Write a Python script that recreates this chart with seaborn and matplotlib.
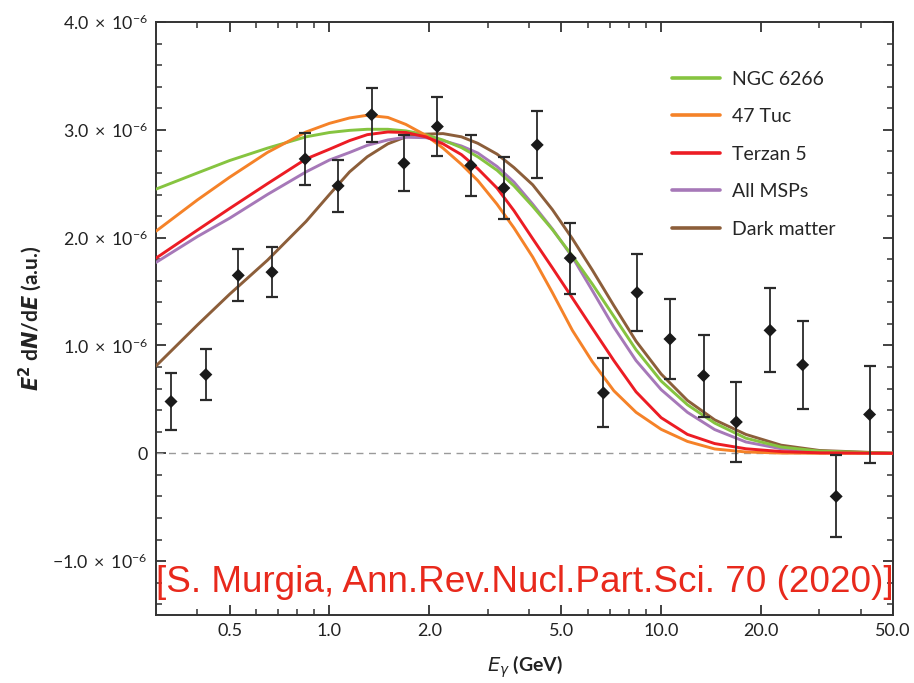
import numpy as np
import pandas as pd
import matplotlib
matplotlib.use("Agg")
import matplotlib.pyplot as plt
import seaborn as sns
from matplotlib.ticker import FixedLocator, FixedFormatter, NullFormatter
from matplotlib.lines import Line2D

# ---------------- data (flux in units of 1e-6, a.u.) ----------------
energy_bins = [0.333, 0.424, 0.531, 0.671, 0.845, 1.062, 1.34, 1.677, 2.115, 2.667, 3.356,
               4.23, 5.32, 6.70, 8.46, 10.63, 13.42, 16.85, 21.3, 26.7, 33.7, 42.5]
flux = [0.48, 0.73, 1.65, 1.68, 2.73, 2.48, 3.14, 2.69, 3.03, 2.67, 2.46,
        2.86, 1.81, 0.56, 1.49, 1.06, 0.72, 0.29, 1.14, 0.82, -0.40, 0.36]
flux_err = [0.26, 0.24, 0.24, 0.23, 0.24, 0.24, 0.25, 0.26, 0.27, 0.28, 0.29,
            0.31, 0.33, 0.32, 0.355, 0.37, 0.38, 0.37, 0.39, 0.41, 0.38, 0.45]

model_energy = [0.3, 0.4, 0.5, 0.65, 0.85, 1.0, 1.15, 1.3, 1.5, 1.7, 1.95, 2.2, 2.5, 2.8,
                3.2, 3.6, 4.1, 4.7, 5.4, 6.2, 7.2, 8.4, 10, 12, 14.5, 18, 23, 30, 50]
ngc6266 = [2.45, 2.60, 2.715, 2.83, 2.935, 2.975, 2.995, 3.005, 3.005, 2.99, 2.955, 2.905,
           2.835, 2.75, 2.625, 2.48, 2.29, 2.075, 1.83, 1.57, 1.27, 0.96, 0.67, 0.45, 0.28,
           0.14, 0.058, 0.02, 0.0]
tuc47 = [2.06, 2.35, 2.56, 2.79, 2.98, 3.06, 3.11, 3.135, 3.115, 3.05, 2.95, 2.83, 2.68,
         2.53, 2.31, 2.09, 1.82, 1.49, 1.14, 0.85, 0.58, 0.38, 0.222, 0.11, 0.04, 0.012,
         0.002, 0.0, 0.0]
terzan5 = [1.81, 2.07, 2.27, 2.50, 2.73, 2.82, 2.90, 2.955, 2.98, 2.975, 2.935, 2.87, 2.77,
           2.64, 2.46, 2.25, 1.99, 1.72, 1.44, 1.16, 0.86, 0.57, 0.33, 0.175, 0.09, 0.042,
           0.016, 0.004, 0.0]
all_msps = [1.77, 2.01, 2.18, 2.40, 2.61, 2.72, 2.79, 2.856, 2.906, 2.931, 2.927, 2.90, 2.85,
            2.785, 2.66, 2.515, 2.31, 2.08, 1.82, 1.51, 1.17, 0.86, 0.59, 0.38, 0.22, 0.105,
            0.042, 0.012, 0.0]
dark_matter = [0.81, 1.19, 1.475, 1.79, 2.15, 2.40, 2.61, 2.75, 2.87, 2.935, 2.96, 2.965,
               2.935, 2.875, 2.775, 2.65, 2.49, 2.26, 1.99, 1.70, 1.37, 1.04, 0.735, 0.49,
               0.31, 0.175, 0.075, 0.026, 0.0]

series_names = ["NGC 6266", "47 Tuc", "Terzan 5", "All MSPs", "Dark matter"]
series_values = [ngc6266, tuc47, terzan5, all_msps, dark_matter]
series_colors = ["#86c440", "#f58228", "#ec1c24", "#a678b8", "#8c5e3a"]

x_major = [0.5, 1.0, 2.0, 5.0, 10.0, 20.0, 50.0]
x_major_labels = ["0.5", "1.0", "2.0", "5.0", "10.0", "20.0", "50.0"]
x_minor = [0.4, 0.6, 0.7, 0.8, 0.9, 3, 4, 6, 7, 8, 9, 30, 40]
y_major = [-1.0, 0.0, 1.0, 2.0, 3.0, 4.0]
y_major_labels = [r"$-1.0\;\times\;10^{-6}$", "0", r"$1.0\;\times\;10^{-6}$",
                  r"$2.0\;\times\;10^{-6}$", r"$3.0\;\times\;10^{-6}$", r"$4.0\;\times\;10^{-6}$"]
y_minor = [-1.4, -1.2, -0.8, -0.6, -0.4, -0.2, 0.2, 0.4, 0.6, 0.8, 1.2, 1.4, 1.6, 1.8,
           2.2, 2.4, 2.6, 2.8, 3.2, 3.4, 3.6, 3.8]

citation = "[S. Murgia, Ann.Rev.Nucl.Part.Sci. 70 (2020)]"

# ---------------- style ----------------
sns.set_style("ticks")
plt.rcParams["font.family"] = ["Lato", "DejaVu Sans"]
plt.rcParams["mathtext.fontset"] = "custom"
plt.rcParams["mathtext.rm"] = "Lato"
plt.rcParams["mathtext.it"] = "Lato:italic"
plt.rcParams["mathtext.bf"] = "Lato:bold"

fig = plt.figure(figsize=(9.14, 6.83), dpi=100)
ax = fig.add_axes([0.17068, 0.09956, 0.80635, 0.86823])

long_rows = []
for name, vals in zip(series_names, series_values):
    for e, v in zip(model_energy, vals):
        long_rows.append({"E": e, "flux": v, "model": name})
models = pd.DataFrame(long_rows)

palette = dict(zip(series_names, series_colors))
draw_order = ["Dark matter", "All MSPs", "NGC 6266", "47 Tuc", "Terzan 5"]
for i, name in enumerate(draw_order):
    sub = models[models["model"] == name]
    sns.lineplot(data=sub, x="E", y="flux", color=palette[name], lw=2.1,
                 estimator=None, sort=False, legend=False, ax=ax, zorder=3 + i * 0.1)
for ln in ax.get_lines():
    ln.set_solid_joinstyle("round")
    ln.set_solid_capstyle("round")

ax.axhline(0, color="#9a9a9a", lw=1.0, ls=(0, (5, 4)), zorder=1)

ax.errorbar(energy_bins, flux, yerr=flux_err, fmt="none", ecolor="#2a2a2a",
            elinewidth=1.3, capsize=4.5, capthick=1.6, zorder=5)
pts = pd.DataFrame({"E": energy_bins, "flux": flux})
sns.scatterplot(data=pts, x="E", y="flux", marker="D", s=44, color="#1a1a1a",
                edgecolor="none", ax=ax, zorder=6)

ax.set_xscale("log")
ax.set_xlim(0.3, 50)
ax.set_ylim(-1.5, 4.0)
ax.xaxis.set_major_locator(FixedLocator(x_major))
ax.xaxis.set_major_formatter(FixedFormatter(x_major_labels))
ax.xaxis.set_minor_locator(FixedLocator(x_minor))
ax.xaxis.set_minor_formatter(NullFormatter())
ax.yaxis.set_major_locator(FixedLocator(y_major))
ax.yaxis.set_major_formatter(FixedFormatter(y_major_labels))
ax.yaxis.set_minor_locator(FixedLocator(y_minor))

ax.tick_params(which="both", direction="in", top=True, right=True, colors="#333333",
               labelcolor="#222222")
ax.tick_params(axis="x", labelsize=13)
ax.tick_params(axis="y", labelsize=12.8)
ax.tick_params(which="major", length=7.5, width=1.3, pad=6)
ax.tick_params(which="minor", length=4.3, width=1.1)
for sp in ax.spines.values():
    sp.set_color("#333333")
    sp.set_linewidth(1.4)

ax.set_xlabel(r"$\boldsymbol{E_\gamma}$ (GeV)", fontsize=14, fontweight="bold",
              color="#222222", labelpad=10, math_fontfamily="dejavusans")
ax.set_ylabel(r"$\boldsymbol{E}^{\mathbf{2}}$ d$\boldsymbol{N}$/d$\boldsymbol{E}$ (a.u.)",
              fontsize=15, fontweight="bold", color="#222222", labelpad=6,
              math_fontfamily="dejavusans")

handles = [Line2D([], [], color=c, lw=2.6) for c in series_colors]
ax.legend(handles, series_names, loc="upper left", bbox_to_anchor=(0.6997, 0.9176),
          frameon=False, fontsize=14, handlelength=2.5, handletextpad=0.6,
          labelspacing=1.05, borderaxespad=0, borderpad=0)

ax.text(0.5, 0.054, citation, transform=ax.transAxes, ha="center", va="center",
        color="#e8291c", fontsize=26.6, family=["Liberation Sans", "DejaVu Sans"], zorder=7)

fig.savefig("out.png", dpi=100)
